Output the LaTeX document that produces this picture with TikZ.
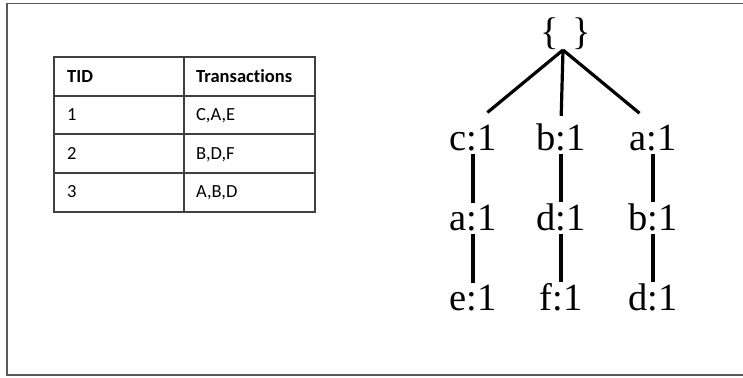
\documentclass[tikz,border=0pt]{standalone}
\usepackage{fontspec}
\setmainfont{Liberation Serif}
\newfontfamily\tablefont[Ligatures=NoCommon]{Carlito}
\usetikzlibrary{calc}
\tikzset{
  frameline/.style={draw=black!65, line width=1.3pt},
  gridline/.style={draw=black!75, line width=1.2pt},
  celltext/.style={anchor=base west, inner sep=0pt, font=\tablefont\fontsize{18.5}{22}\selectfont},
  headtext/.style={celltext, font=\tablefont\bfseries\fontsize{18.5}{22}\selectfont},
  treenode/.style={anchor=base, inner sep=0pt, font=\fontsize{38.5}{44}\selectfont},
  treeedge/.style={line width=3.2pt, black}
}
\begin{document}
\begin{tikzpicture}[x=1pt, y=-1pt]
\useasboundingbox (0,0) rectangle (743,377);
% outer frame
\draw[frameline] (743,3.5) -- (7,3.5) -- (7,375) -- (743,375);
% table grid
\draw[gridline] (54,57) rectangle (315,212);
\draw[gridline] (184,57) -- (184,212);
\draw[gridline] (54,96) -- (315,96);
\draw[gridline] (54,134) -- (315,134);
\draw[gridline] (54,173) -- (315,173);
% table texts
\node[headtext] (h1) at (67,83) {TID};
\node[headtext] (h2) at (196,83) {Transactions};
\node[celltext] (t1) at (67,121) {1};
\node[celltext] (s1) at (196,121) {C,A,E};
\node[celltext] (t2) at (67,159) {2};
\node[celltext] (s2) at (196,159) {B,D,F};
\node[celltext] (t3) at (67,197) {3};
\node[celltext] (s3) at (196,197) {A,B,D};
% tree
\node[treenode] (root) at (566,45) {\{\hspace{0.34em}\}};
\coordinate (j) at (563,50);
\node[treenode] (c1) at (473,150) {c:1};
\node[treenode] (b1) at (561,150) {b:1};
\node[treenode] (a1) at (653,150) {a:1};
\node[treenode] (a2) at (473,230) {a:1};
\node[treenode] (d2) at (561,230) {d:1};
\node[treenode] (b2) at (653,230) {b:1};
\node[treenode] (e3) at (473,310) {e:1};
\node[treenode] (f3) at (561,310) {f:1};
\node[treenode] (d3) at (653,310) {d:1};
\draw[treeedge] (j) -- ($(j)!0.84!(c1.north)$);
\draw[treeedge] (j) -- ($(j)!0.90!(b1.north)$);
\draw[treeedge] (j) -- ($(j)!0.85!(a1.north)$);
\foreach \u/\v in {c1/a2, b1/d2, a1/b2, a2/e3, d2/f3, b2/d3}{
  \draw[treeedge] ([yshift=-3pt]\u.south) -- ([yshift=1pt]\v.north);
}
\end{tikzpicture}
\end{document}
